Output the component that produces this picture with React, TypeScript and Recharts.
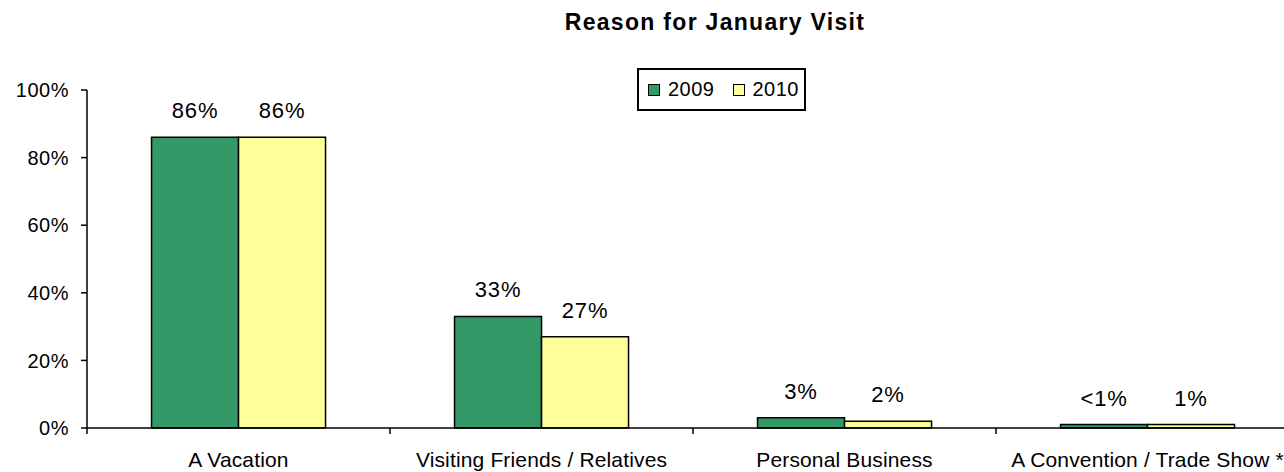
import React from "react";
import { BarChart, Bar, XAxis, YAxis, Legend, LabelList } from "recharts";

const categories = ["A Vacation", "Visiting Friends / Relatives", "Personal Business", "A Convention / Trade Show *"];
const values2009 = [86, 33, 3, 1];
const values2010 = [86, 27, 2, 1];
const labels2009 = ["86%", "33%", "3%", "<1%"];
const labels2010 = ["86%", "27%", "2%", "1%"];
const yTicks = [0, 20, 40, 60, 80, 100];
const title = "Reason for January Visit";

const data = categories.map((c, i) => ({
  name: c,
  y2009: values2009[i],
  y2010: values2010[i],
  l2009: labels2009[i],
  l2010: labels2010[i],
}));

const FONT = '"Liberation Sans", Arial, sans-serif';
const CHART_W = 1310;
const CHART_H = 472;
const MARGIN = { top: 90, right: 11, bottom: 0, left: 0 };
const Y_W = 87;

const XTick = (props: any) => {
  const { x, y, payload } = props;
  const plotW = props.width || CHART_W - MARGIN.right - Y_W;
  const bw = plotW / categories.length;
  return (
    <g>
      <line x1={x - bw / 2} x2={x - bw / 2} y1={y - 6} y2={y} stroke="#000" strokeWidth={1.5} />
      <text x={x} y={y + 33} textAnchor="middle" fontFamily={FONT} fontSize={21} letterSpacing={0.15} fill="#000">
        {payload.value}
      </text>
    </g>
  );
};

const makeLabel = (key: string) => (props: any) => {
  const { x, y, width, index } = props;
  const txt = data[index][key];
  return (
    <text x={x + width / 2} y={y - 19} textAnchor="middle" fontFamily={FONT} fontSize={22} letterSpacing={0.8} fill="#000">
      {txt}
    </text>
  );
};

const LegendBox = (props: any) => {
  const items = props.payload || [];
  return (
    <div
      style={{
        width: 169,
        height: 43,
        boxSizing: "border-box",
        border: "2px solid #000",
        background: "#fff",
        display: "flex",
        alignItems: "center",
        paddingLeft: 9,
        fontFamily: FONT,
        fontSize: 20,
        color: "#000",
      }}
    >
      {items.map((it: any, i: number) => (
        <div key={i} style={{ display: "flex", alignItems: "center", marginRight: 18 }}>
          <span
            style={{
              display: "inline-block",
              width: 12,
              height: 12,
              boxSizing: "border-box",
              border: "1.5px solid #000",
              background: it.color,
              marginRight: 8,
            }}
          />
          <span style={{ letterSpacing: 0.5 }}>{it.value}</span>
        </div>
      ))}
    </div>
  );
};

export default function App() {
  return (
    <div style={{ position: "absolute", left: 0, top: 0, width: 1284, height: 472, overflow: "hidden", background: "#fff" }}>
      <BarChart width={CHART_W} height={CHART_H} data={data} margin={MARGIN} barCategoryGap="21.3%" barGap={0}>
        <XAxis
          dataKey="name"
          height={44}
          axisLine={{ stroke: "#000", strokeWidth: 1.5 }}
          tickLine={false}
          tickSize={6}
          tickMargin={0}
          tick={<XTick />}
          interval={0}
        />
        <YAxis
          width={Y_W}
          domain={[0, 100]}
          ticks={yTicks}
          tickFormatter={(v: number) => `${v}%`}
          axisLine={{ stroke: "#000", strokeWidth: 1.5 }}
          tickLine={{ stroke: "#000", strokeWidth: 1.5 }}
          tickSize={6}
          tickMargin={12}
          tick={{ fill: "#000", fontFamily: FONT, fontSize: 20, letterSpacing: 0.5 }}
          interval={0}
        />
        <Legend
          layout="horizontal"
          verticalAlign="middle"
          align="center"
          content={<LegendBox />}
          wrapperStyle={{ left: 637, top: 68, width: 169, height: 43 }}
        />
        <Bar dataKey="y2009" name="2009" fill="#339966" stroke="#000" strokeWidth={1.5} isAnimationActive={false}>
          <LabelList dataKey="y2009" content={makeLabel("l2009")} />
        </Bar>
        <Bar dataKey="y2010" name="2010" fill="#FFFF99" stroke="#000" strokeWidth={1.5} isAnimationActive={false}>
          <LabelList dataKey="y2010" content={makeLabel("l2010")} />
        </Bar>
      </BarChart>
      <svg width={1284} height={472} style={{ position: "absolute", left: 0, top: 0, pointerEvents: "none" }}>
        <text x={715} y={30} textAnchor="middle" fontFamily={FONT} fontSize={23} fontWeight="bold" letterSpacing={1.3} fill="#000">
          {title}
        </text>
      </svg>
    </div>
  );
}
